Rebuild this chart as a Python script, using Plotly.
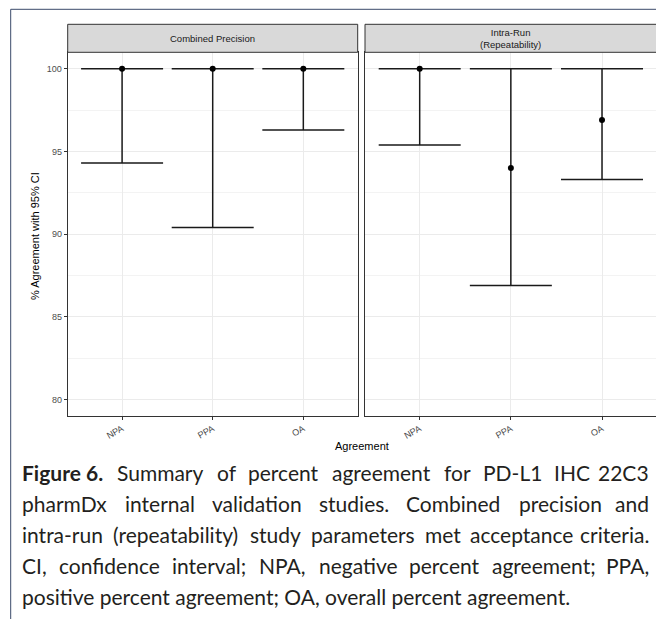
import plotly.graph_objects as go

# ---------------- data ----------------
categories = ["NPA", "PPA", "OA"]
panel_titles = ["Combined Precision", "Intra-Run<br>(Repeatability)"]
combined_est = [100.0, 100.0, 100.0]
combined_lower = [94.3, 90.4, 96.3]
combined_upper = [100.0, 100.0, 100.0]
intra_est = [100.0, 94.0, 96.9]
intra_lower = [95.4, 86.9, 93.3]
intra_upper = [100.0, 100.0, 100.0]
y_ticks = [80, 85, 90, 95, 100]
y_title = "% Agreement with 95% CI"
x_title = "Agreement"

caption_lines = [
    ["<b>Figure 6.</b>", "Summary", "of", "percent", "agreement", "for", "PD-L1", "IHC", "22C3"],
    ["pharmDx", "internal", "validation", "studies.", "Combined", "precision", "and"],
    ["intra-run", "(repeatability)", "study", "parameters", "met", "acceptance", "criteria."],
    ["CI,", "confidence", "interval;", "NPA,", "negative", "percent", "agreement;", "PPA,"],
    ["positive", "percent", "agreement;", "OA,", "overall", "percent", "agreement."],
]

# ---------------- geometry ----------------
OFF = 8  # page body margin
W, H = 664 - OFF, 619 - OFF
def px(x):
    return (x - OFF) / W
def py(y):
    return (H - (y - OFF)) / H

panel_x = [(67.7, 357.7), (365.0, 656.7)]
plot_top, plot_bot = 52.3, 416.0
strip_top = 24.3

fig = go.Figure()

series = [(combined_est, combined_lower, combined_upper), (intra_est, intra_lower, intra_upper)]
for i, (est, lo, up) in enumerate(series):
    xa = "x" if i == 0 else "x2"
    ya = "y" if i == 0 else "y2"
    fig.add_trace(go.Scatter(
        x=categories, y=est, mode="markers", xaxis=xa, yaxis=ya,
        marker=dict(size=6, color="#000000"),
        error_y=dict(type="data", symmetric=False,
                     array=[u - e for u, e in zip(up, est)],
                     arrayminus=[e - l for e, l in zip(est, lo)],
                     width=41, thickness=1.5, color="#1a1a1a"),
        showlegend=False, hoverinfo="skip"))

sans = "Liberation Sans, Arial, sans-serif"
axis_font = dict(family=sans, size=9, color="#4d4d4d")
common_x = dict(type="category", categoryorder="array", categoryarray=categories,
                range=[-0.6, 2.6], showgrid=True, gridcolor="#ebebeb", gridwidth=1,
                ticks="outside", ticklen=3, tickcolor="#333333", tickwidth=1,
                tickangle=-30, tickfont=axis_font, showline=True, linecolor="#333333",
                linewidth=1, mirror=True, zeroline=False, fixedrange=True)
common_y = dict(range=[79, 101], tickvals=y_ticks, showgrid=True, gridcolor="#ebebeb",
                gridwidth=1, showline=True, linecolor="#333333", linewidth=1, mirror=True,
                zeroline=False, tickfont=axis_font,
                minor=dict(tick0=80, dtick=2.5, showgrid=True, gridcolor="#f3f3f3", gridwidth=0.6),
                domain=[py(plot_bot), py(plot_top)])

fig.update_layout(
    width=W, height=H, autosize=False,
    margin=dict(l=0, r=0, t=0, b=0),
    paper_bgcolor="white", plot_bgcolor="white",
    xaxis=dict(common_x, domain=[px(panel_x[0][0]), px(panel_x[0][1])], anchor="y"),
    xaxis2=dict(common_x, domain=[px(panel_x[1][0]), px(panel_x[1][1])], anchor="y2"),
    yaxis=dict(common_y, anchor="x", ticks="outside", ticklen=3, tickcolor="#333333"),
    yaxis2=dict(common_y, anchor="x2", showticklabels=False, ticks=""),
)

shapes = []
annotations = []
# strips
for (x0, x1), title in zip(panel_x, panel_titles):
    shapes.append(dict(type="rect", xref="paper", yref="paper",
                       x0=px(x0), x1=px(x1), y0=py(plot_top), y1=py(strip_top),
                       fillcolor="#d9d9d9", line=dict(color="#333333", width=1)))
    annotations.append(dict(xref="paper", yref="paper", x=px((x0 + x1) / 2),
                            y=py((plot_top + strip_top) / 2), text=title, showarrow=False,
                            xanchor="center", yanchor="middle",
                            font=dict(family=sans, size=9.5, color="#1a1a1a")))

# axis titles
annotations.append(dict(xref="paper", yref="paper", x=px(35), y=py(236),
                        text=y_title, textangle=-90, showarrow=False,
                        xanchor="center", yanchor="middle",
                        font=dict(family=sans, size=11, color="#000000")))
annotations.append(dict(xref="paper", yref="paper", x=px(362), y=py(446),
                        text=x_title, showarrow=False, xanchor="center", yanchor="middle",
                        font=dict(family=sans, size=11, color="#000000")))

# outer frame (top and left edges)
frame_col = "#3b4a6b"
shapes.append(dict(type="line", xref="paper", yref="paper", x0=px(10.7), x1=1.0,
                   y0=py(9.3), y1=py(9.3), line=dict(color=frame_col, width=1)))
shapes.append(dict(type="line", xref="paper", yref="paper", x0=px(10.7), x1=px(10.7),
                   y0=0.0, y1=py(9.3), line=dict(color=frame_col, width=1)))

# caption, justified word by word
EM = {
    'a': .50, 'b': .56, 'c': .47, 'd': .56, 'e': .53, 'f': .33, 'g': .50, 'h': .56, 'i': .24,
    'j': .24, 'k': .50, 'l': .24, 'm': .84, 'n': .56, 'o': .56, 'p': .56, 'q': .56, 'r': .37,
    's': .43, 't': .36, 'u': .56, 'v': .51, 'w': .78, 'x': .49, 'y': .51, 'z': .46,
    'A': .68, 'C': .67, 'D': .74, 'F': .55, 'H': .74, 'I': .29, 'L': .51, 'O': .80, 'P': .60,
    'S': .52, 'R': .62, 'E': .57, 'N': .75, '.': .22, ',': .22, ';': .24, '-': .35, '(': .31,
    ')': .31, ' ': .19,
}
cap_font = "Lato, 'Noto Sans', sans-serif"
cap_size = 21
cap_color = "#231f20"
x_left, x_right = 20.0, 651.0
line_y0, line_step = 472.0, 31.0

def word_width(w):
    bold = w.startswith("<b>")
    t = w.replace("<b>", "").replace("</b>", "")
    s = sum(EM.get(c, .58) for c in t) * cap_size
    return s * (1.05 if bold else 1.0)

for li, words in enumerate(caption_lines):
    yc = py(line_y0 + li * line_step)
    last = li == len(caption_lines) - 1
    widths = [word_width(w) for w in words]
    if last:
        text = " ".join(words)
        annotations.append(dict(xref="paper", yref="paper", x=px(x_left), y=yc, text=text,
                                showarrow=False, xanchor="left", yanchor="middle",
                                font=dict(family=cap_font, size=cap_size, color=cap_color)))
        continue
    gap = (x_right - x_left - sum(widths)) / (len(words) - 1)
    xpos = x_left
    for wi, (w, wd) in enumerate(zip(words, widths)):
        if wi == len(words) - 1:
            annotations.append(dict(xref="paper", yref="paper", x=px(x_right), y=yc, text=w,
                                    showarrow=False, xanchor="right", yanchor="middle",
                                    font=dict(family=cap_font, size=cap_size, color=cap_color)))
        else:
            annotations.append(dict(xref="paper", yref="paper", x=px(xpos), y=yc, text=w,
                                    showarrow=False, xanchor="left", yanchor="middle",
                                    font=dict(family=cap_font, size=cap_size, color=cap_color)))
        xpos += wd + gap

fig.update_layout(shapes=shapes, annotations=annotations)
fig.write_html("out.html")
